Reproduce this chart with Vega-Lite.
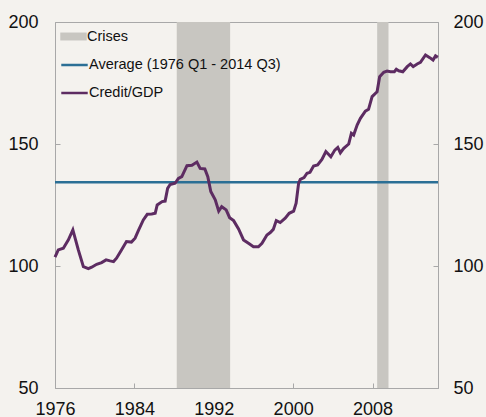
{
  "$schema": "https://vega.github.io/schema/vega-lite/v6.json",
  "width": 383,
  "height": 366,
  "autosize": {"type": "none"},
  "padding": {"left": 55, "top": 22, "right": 48, "bottom": 29},
  "background": "#f4f2ee",
  "config": {
    "font": "Liberation Sans",
    "view": {"stroke": "#a8a8a8", "strokeWidth": 1, "fill": "#f4f2ee"},
    "axis": {"grid": false, "title": null, "domainColor": "#a8a8a8", "tickColor": "#a8a8a8", "labelColor": "#111111", "labelFontSize": 18, "labelFont": "Liberation Sans"},
    "legend": {"labelFontSize": 14.5, "labelFont": "Liberation Sans", "labelColor": "#111111", "labelOffset": 0, "labelLimit": 300, "padding": 0}
  },
  "datasets": {
    "crises": [
      {"start": 1988.27, "end": 1993.65, "series": "Crises"},
      {"start": 2008.47, "end": 2009.61, "series": "Crises"}
    ],
    "average": [
      {"start": 1976, "end": 2014.6, "value": 134.3, "series": "Average (1976 Q1 - 2014 Q3)"}
    ],
    "credit": [
      {"year": 1976.0, "value": 103.6}, {"year": 1976.33, "value": 106.6}, {"year": 1976.84, "value": 107.3},
      {"year": 1977.35, "value": 110.7}, {"year": 1977.8, "value": 114.8}, {"year": 1978.35, "value": 106.6},
      {"year": 1978.86, "value": 99.7}, {"year": 1979.36, "value": 98.9}, {"year": 1979.7, "value": 99.5},
      {"year": 1980.2, "value": 100.7}, {"year": 1980.7, "value": 101.4}, {"year": 1981.15, "value": 102.5},
      {"year": 1981.55, "value": 102.1}, {"year": 1981.9, "value": 101.8}, {"year": 1982.2, "value": 103.2},
      {"year": 1982.7, "value": 106.6}, {"year": 1983.2, "value": 110.0}, {"year": 1983.7, "value": 109.8},
      {"year": 1984.07, "value": 111.4}, {"year": 1984.4, "value": 114.5}, {"year": 1984.9, "value": 118.9},
      {"year": 1985.3, "value": 121.2}, {"year": 1985.75, "value": 121.3}, {"year": 1986.1, "value": 121.6},
      {"year": 1986.3, "value": 125.0}, {"year": 1986.8, "value": 126.4}, {"year": 1987.1, "value": 126.6},
      {"year": 1987.35, "value": 131.8}, {"year": 1987.6, "value": 133.4}, {"year": 1988.1, "value": 133.9},
      {"year": 1988.44, "value": 135.9}, {"year": 1988.78, "value": 136.6}, {"year": 1989.3, "value": 141.1},
      {"year": 1989.8, "value": 141.3}, {"year": 1990.3, "value": 142.6}, {"year": 1990.63, "value": 140.0},
      {"year": 1991.1, "value": 139.8}, {"year": 1991.4, "value": 136.6}, {"year": 1991.7, "value": 130.5},
      {"year": 1992.15, "value": 127.1}, {"year": 1992.5, "value": 122.5}, {"year": 1992.8, "value": 124.3},
      {"year": 1993.25, "value": 123.0}, {"year": 1993.6, "value": 119.8}, {"year": 1994.0, "value": 118.6},
      {"year": 1994.5, "value": 115.2}, {"year": 1995.0, "value": 110.7}, {"year": 1995.5, "value": 109.3},
      {"year": 1996.0, "value": 107.9}, {"year": 1996.5, "value": 107.9}, {"year": 1996.86, "value": 109.3},
      {"year": 1997.36, "value": 112.7}, {"year": 1997.7, "value": 113.7}, {"year": 1998.0, "value": 115.0},
      {"year": 1998.3, "value": 118.6}, {"year": 1998.7, "value": 117.8}, {"year": 1999.2, "value": 119.6},
      {"year": 1999.6, "value": 121.6}, {"year": 2000.05, "value": 122.5}, {"year": 2000.3, "value": 125.7},
      {"year": 2000.55, "value": 133.9}, {"year": 2000.72, "value": 135.5}, {"year": 2001.1, "value": 136.2},
      {"year": 2001.4, "value": 138.0}, {"year": 2001.7, "value": 138.4}, {"year": 2002.06, "value": 141.0},
      {"year": 2002.47, "value": 141.4}, {"year": 2002.9, "value": 143.7}, {"year": 2003.3, "value": 146.9},
      {"year": 2003.8, "value": 144.8}, {"year": 2004.2, "value": 147.5}, {"year": 2004.5, "value": 148.6},
      {"year": 2004.76, "value": 146.4}, {"year": 2005.1, "value": 148.2}, {"year": 2005.6, "value": 150.0},
      {"year": 2005.87, "value": 154.4}, {"year": 2006.1, "value": 153.7}, {"year": 2006.45, "value": 157.8},
      {"year": 2006.78, "value": 160.5}, {"year": 2007.28, "value": 163.5}, {"year": 2007.6, "value": 164.2},
      {"year": 2007.96, "value": 169.4}, {"year": 2008.46, "value": 171.4}, {"year": 2008.72, "value": 177.6},
      {"year": 2009.13, "value": 179.4}, {"year": 2009.47, "value": 179.9}, {"year": 2009.8, "value": 179.6},
      {"year": 2010.2, "value": 179.6}, {"year": 2010.4, "value": 180.6}, {"year": 2010.64, "value": 180.0},
      {"year": 2011.05, "value": 179.6}, {"year": 2011.5, "value": 181.7}, {"year": 2011.82, "value": 182.8},
      {"year": 2012.1, "value": 181.7}, {"year": 2012.5, "value": 182.8}, {"year": 2012.83, "value": 183.5},
      {"year": 2013.34, "value": 186.5}, {"year": 2013.77, "value": 185.4}, {"year": 2014.1, "value": 184.4},
      {"year": 2014.35, "value": 186.1}, {"year": 2014.58, "value": 185.5}
    ]
  },
  "resolve": {"axis": {"y": "independent"}},
  "layer": [
    {
      "data": {"name": "crises"},
      "mark": {"type": "rect", "opacity": 1},
      "encoding": {
        "x": {"field": "start", "type": "quantitative", "scale": {"domain": [1976, 2014.6], "nice": false, "zero": false},
          "axis": {"values": [1976, 1984, 1992, 2000, 2008], "format": "d", "tickSize": -5, "labelPadding": 17, "labelFlush": false}},
        "x2": {"field": "end"},
        "fill": {
          "field": "series", "type": "nominal",
          "scale": {"domain": ["Crises"], "range": ["#c8c6c1"]},
          "legend": {
            "title": null, "orient": "none", "legendX": 5, "legendY": 1,
            "symbolType": "M-1,-0.3H1V0.3H-1Z", "symbolSize": 700, "symbolStrokeWidth": 0, "symbolOpacity": 1
          }
        }
      }
    },
    {
      "data": {"name": "average"},
      "mark": {"type": "rule", "strokeWidth": 2.5},
      "encoding": {
        "x": {"field": "start", "type": "quantitative"},
        "x2": {"field": "end"},
        "y": {"field": "value", "type": "quantitative", "scale": {"domain": [50, 200], "nice": false, "zero": false},
          "axis": {"orient": "right", "values": [50, 100, 150, 200], "tickSize": -5, "labelPadding": 20, "labelFlush": false}},
        "stroke": {
          "field": "series", "type": "nominal",
          "scale": {"domain": ["Average (1976 Q1 - 2014 Q3)", "Credit/GDP"], "range": ["#2b6f95", "#5d2c62"]},
          "legend": {
            "title": null, "orient": "none", "legendX": 5, "legendY": 28.5, "rowPadding": 7,
            "symbolType": "stroke", "symbolSize": 700, "symbolStrokeWidth": 2.5
          }
        }
      }
    },
    {
      "data": {"name": "credit"},
      "mark": {"type": "line", "strokeWidth": 3},
      "encoding": {
        "x": {"field": "year", "type": "quantitative"},
        "y": {"field": "value", "type": "quantitative",
          "axis": {"orient": "left", "values": [50, 100, 150, 200], "tickSize": -5, "labelPadding": 22, "labelFlush": false}},
        "stroke": {"datum": "Credit/GDP", "type": "nominal"}
      }
    }
  ]
}
